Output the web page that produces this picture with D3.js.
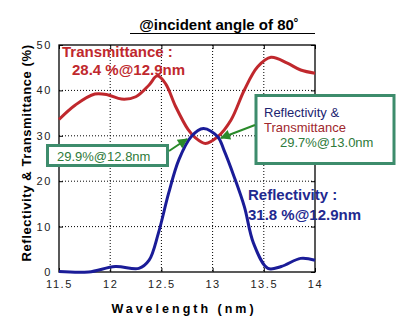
<!DOCTYPE html>
<html><head><meta charset="utf-8">
<script src="https://cdn.jsdelivr.net/npm/d3@7"></script>
<style>body{margin:0;background:#fff}svg{display:block;font-family:Arial,"Liberation Sans",sans-serif}</style>
</head><body><svg id="c" width="401" height="321"></svg>
<script>
const xTicks = [11.5, 12, 12.5, 13, 13.5, 14];
const yTicks = [0, 10, 20, 30, 40, 50];
const tWave = [11.5, 11.66, 11.85, 11.98, 12.11, 12.25, 12.38, 12.46, 12.54, 12.64, 12.76, 12.83, 12.93, 13.05, 13.18, 13.31, 13.44, 13.57, 13.73, 13.86, 14.0];
const tVals = [33.6, 36.8, 39.2, 39.0, 38.1, 38.6, 41.2, 43.2, 41.5, 36.4, 31.4, 29.6, 28.3, 29.8, 33.5, 40.1, 45.2, 47.3, 46.0, 44.5, 43.8];
const rWave = [11.5, 11.79, 12.05, 12.28, 12.38, 12.47, 12.57, 12.67, 12.79, 12.91, 13.05, 13.11, 13.21, 13.31, 13.4, 13.54, 13.67, 13.86, 14.0];
const rVals = [0.1, 0.0, 1.2, 0.8, 2.6, 8.5, 17.3, 24.7, 29.8, 31.6, 29.8, 26.9, 21.0, 14.4, 6.3, 0.8, 1.2, 3.0, 2.6];

const svg = d3.select("#c");
const L = 59, R = 315, T = 45, B = 272;
const x = d3.scaleLinear().domain([11.5, 14]).range([L, R]);
const y = d3.scaleLinear().domain([0, 50]).range([B, T]);

// grid
const g = svg.append("g");
g.selectAll(".gx").data(xTicks.slice(1, -1)).join("line")
  .attr("x1", d => x(d)).attr("x2", d => x(d)).attr("y1", T).attr("y2", B)
  .attr("stroke", "#000").attr("stroke-width", 1).attr("stroke-dasharray", "1,2");
g.selectAll(".gy").data(yTicks.slice(1, -1)).join("line")
  .attr("y1", d => y(d)).attr("y2", d => y(d)).attr("x1", L).attr("x2", R)
  .attr("stroke", "#000").attr("stroke-width", 1).attr("stroke-dasharray", "1,2");

// axes
const fmt = d => String(d);
svg.append("g").attr("transform", `translate(0,${B})`)
  .call(d3.axisBottom(x).tickValues(xTicks).tickSize(-4).tickPadding(8).tickFormat(fmt))
  .call(a => a.select(".domain").remove());
svg.append("g").attr("transform", `translate(0,${T})`)
  .call(d3.axisTop(x).tickValues(xTicks).tickSize(-4).tickFormat(""))
  .call(a => a.select(".domain").remove());
svg.append("g").attr("transform", `translate(${L},0)`)
  .call(d3.axisLeft(y).tickValues(yTicks).tickSize(-4).tickPadding(7).tickFormat(fmt))
  .call(a => a.select(".domain").remove());
svg.append("g").attr("transform", `translate(${R},0)`)
  .call(d3.axisRight(y).tickValues(yTicks).tickSize(-4).tickFormat(""))
  .call(a => a.select(".domain").remove());
svg.selectAll(".tick text").attr("font-size", 11).attr("font-family", "Arial, 'Liberation Sans', sans-serif")
  .attr("fill", "#222").style("letter-spacing", "1.6px");
svg.selectAll(".tick line").attr("stroke", "#000");

svg.append("rect").attr("x", L).attr("y", T).attr("width", R - L).attr("height", B - T)
  .attr("fill", "none").attr("stroke", "#000").attr("stroke-width", 1.3);

// curves
const line = d3.line().x(d => x(d[0])).y(d => y(d[1])).curve(d3.curveCatmullRom.alpha(0.5));
svg.append("path").datum(d3.zip(tWave, tVals)).attr("d", line)
  .attr("fill", "none").attr("stroke", "#c0282d").attr("stroke-width", 3);
svg.append("path").datum(d3.zip(rWave, rVals)).attr("d", line)
  .attr("fill", "none").attr("stroke", "#1a1c98").attr("stroke-width", 3);

// title
svg.append("text").attr("x", 219).attr("y", 30).attr("text-anchor", "middle")
  .attr("font-size", 15).attr("font-weight", "bold").text("@incident angle of 80˚");
svg.append("line").attr("x1", 130).attr("x2", 315).attr("y1", 33.5).attr("y2", 33.5)
  .attr("stroke", "#000").attr("stroke-width", 1.2);

// axis labels
svg.append("text").attr("x", 184).attr("y", 313).attr("text-anchor", "middle")
  .attr("font-size", 12.5).attr("font-weight", "bold").style("letter-spacing", "3px")
  .text("Wavelength (nm)");
svg.append("text").attr("transform", "translate(31,153) rotate(-90)").attr("text-anchor", "middle")
  .attr("font-size", 13).attr("font-weight", "bold").style("letter-spacing", "0.6px")
  .text("Reflectivity & Transmittance (%)");

// annotations
svg.append("text").attr("x", 62).attr("y", 57).attr("font-size", 15).attr("font-weight", "bold")
  .attr("fill", "#c0282d").text("Transmittance :");
svg.append("text").attr("x", 72).attr("y", 75).attr("font-size", 15).attr("font-weight", "bold")
  .attr("fill", "#c0282d").text("28.4 %@12.9nm");
svg.append("text").attr("x", 248).attr("y", 200).attr("font-size", 15).attr("font-weight", "bold")
  .attr("fill", "#1f2a90").text("Reflectivity :");
svg.append("text").attr("x", 248).attr("y", 220).attr("font-size", 15).attr("font-weight", "bold")
  .attr("fill", "#1f2a90").text("31.8 %@12.9nm");

const green = "#3d8c6c";
svg.append("rect").attr("x", 47.5).attr("y", 145.5).attr("width", 120).attr("height", 20)
  .attr("fill", "#fff").attr("stroke", green).attr("stroke-width", 3);
svg.append("text").attr("x", 57).attr("y", 161).attr("font-size", 13).attr("fill", "#2e7a3a")
  .text("29.9%@12.8nm");

svg.append("rect").attr("x", 256).attr("y", 95.5).attr("width", 138).attr("height", 68)
  .attr("fill", "#fff").attr("stroke", green).attr("stroke-width", 3);
svg.append("text").attr("x", 264).attr("y", 117).attr("font-size", 13).attr("fill", "#1c2470")
  .text("Reflectivity &");
svg.append("text").attr("x", 264).attr("y", 132).attr("font-size", 13).attr("fill", "#a0282d")
  .text("Transmittance");
svg.append("text").attr("x", 280).attr("y", 147).attr("font-size", 13).attr("fill", "#2e7a3a")
  .text("29.7%@13.0nm");

// arrows
const defs = svg.append("defs");
defs.append("marker").attr("id", "ah").attr("viewBox", "0 0 10 10").attr("refX", 9).attr("refY", 5)
  .attr("markerWidth", 6).attr("markerHeight", 5).attr("orient", "auto")
  .append("path").attr("d", "M0,0L10,5L0,10z").attr("fill", "#2a8a2a");
svg.append("line").attr("x1", 169).attr("y1", 151).attr("x2", 187).attr("y2", 139)
  .attr("stroke", "#2a8a2a").attr("stroke-width", 2).attr("marker-end", "url(#ah)");
svg.append("line").attr("x1", 255).attr("y1", 125).attr("x2", 221).attr("y2", 138)
  .attr("stroke", "#2a8a2a").attr("stroke-width", 2).attr("marker-end", "url(#ah)");
</script></body></html>
